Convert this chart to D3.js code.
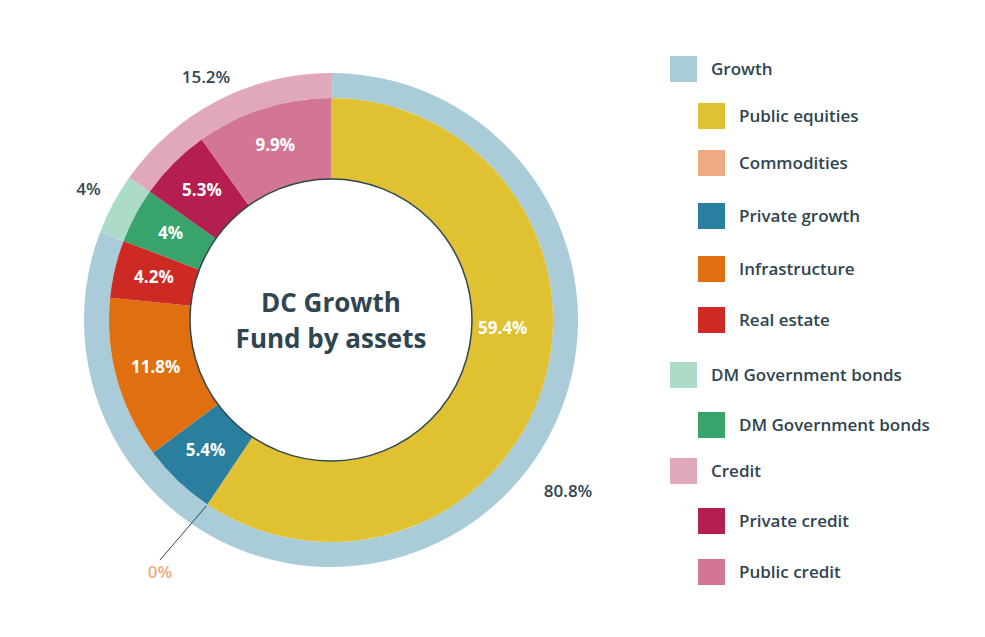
<!DOCTYPE html>
<html><head><meta charset="utf-8">
<script src="https://cdn.jsdelivr.net/npm/d3@7"></script>
<style>body{margin:0;background:#fff}text{font-family:"Open Sans",sans-serif}</style>
</head><body><svg id="c" width="985" height="637"></svg>
<script>
const outerNames=["Growth","DM Government bonds","Credit"];
const outerValues=[80.8,4,15.2];
const outerColors=["#a9ccd8","#acdcc7","#e0a8ba"];
const innerNames=["Public equities","Commodities","Private growth","Infrastructure","Real estate","DM Government bonds","Private credit","Public credit"];
const innerValues=[59.4,0,5.4,11.8,4.2,4,5.3,9.9];
const innerLabels=["59.4%","0%","5.4%","11.8%","4.2%","4%","5.3%","9.9%"];
const innerColors=["#dfc132","#eeaa80","#2a7f9e","#e0700f","#cc2a22","#38a46c","#b41f4f","#d37693"];
const legendItems=[["Growth",0,"#a9ccd8"],["Public equities",1,"#dfc132"],["Commodities",1,"#eeaa80"],["Private growth",1,"#2a7f9e"],["Infrastructure",1,"#e0700f"],["Real estate",1,"#cc2a22"],["DM Government bonds",0,"#acdcc7"],["DM Government bonds",1,"#38a46c"],["Credit",0,"#e0a8ba"],["Private credit",1,"#b41f4f"],["Public credit",1,"#d37693"]];
const legendY=[69,116,163,216,269,320,375,425,471,521,572];
const txt="#2f4550";
const svg=d3.select("#c");
const g=svg.append("g").attr("transform","translate(331,320)");
const pie=d3.pie().sort(null).value(d=>d);
const outerArc=d3.arc().innerRadius(222).outerRadius(247);
const innerArc=d3.arc().innerRadius(141).outerRadius(222);
const oa=pie(outerValues), ia=pie(innerValues);
g.selectAll(".o").data(oa).join("path").attr("d",outerArc).attr("fill",(d,i)=>outerColors[i]);
g.selectAll(".i").data(ia).join("path").attr("d",innerArc).attr("fill",(d,i)=>innerColors[i]);
g.append("circle").attr("r",141).attr("fill","#fff").attr("stroke","#2f4550").attr("stroke-width",1.5);
const pt=(a,r)=>[Math.sin(a)*r,-Math.cos(a)*r];
// outer labels
const outerLabelAngle=[126*Math.PI/180,null,null];
const outerLabelR=[293,275,272];
oa.forEach((d,i)=>{const a=outerLabelAngle[i]??(d.startAngle+d.endAngle)/2;const p=pt(a,outerLabelR[i]);
 g.append("text").attr("x",p[0]).attr("y",p[1]).attr("text-anchor","middle").attr("dominant-baseline","middle").attr("font-size",17).attr("font-weight",600).attr("fill",txt).text(outerValues[i]+"%");});
// inner labels
ia.forEach((d,i)=>{if(innerValues[i]===0){
  const a=d.startAngle,p1=pt(a,224),p2=[160-331,560-320];
  g.append("line").attr("x1",p1[0]).attr("y1",p1[1]).attr("x2",p2[0]).attr("y2",p2[1]).attr("stroke","#2f4550").attr("stroke-width",1);
  g.append("text").attr("x",p2[0]).attr("y",p2[1]+18).attr("text-anchor","middle").attr("font-size",17).attr("font-weight",600).attr("fill","#eeaa80").text(innerLabels[i]);return;}
 let a=(d.startAngle+d.endAngle)/2; if(i===0)a=93*Math.PI/180;
 const p=pt(a,i===0?172:182);
 g.append("text").attr("x",p[0]).attr("y",p[1]).attr("text-anchor","middle").attr("dominant-baseline","middle").attr("font-size",17).attr("font-weight",700).attr("fill","#fff").text(innerLabels[i]);});
g.append("text").attr("y",-8).attr("text-anchor","middle").attr("font-size",26).attr("font-weight",700).attr("fill",txt).text("DC Growth");
g.append("text").attr("y",28).attr("text-anchor","middle").attr("font-size",26).attr("font-weight",700).attr("fill",txt).text("Fund by assets");
const lg=svg.append("g");
legendItems.forEach((d,i)=>{const x=d[1]?698:670,y=legendY[i];
 lg.append("rect").attr("x",x).attr("y",y-13).attr("width",27).attr("height",26).attr("fill",d[2]);
 lg.append("text").attr("x",x+41).attr("y",y+1).attr("dominant-baseline","middle").attr("font-size",17).attr("font-weight",600).attr("fill",txt).text(d[0]);});
</script></body></html>
